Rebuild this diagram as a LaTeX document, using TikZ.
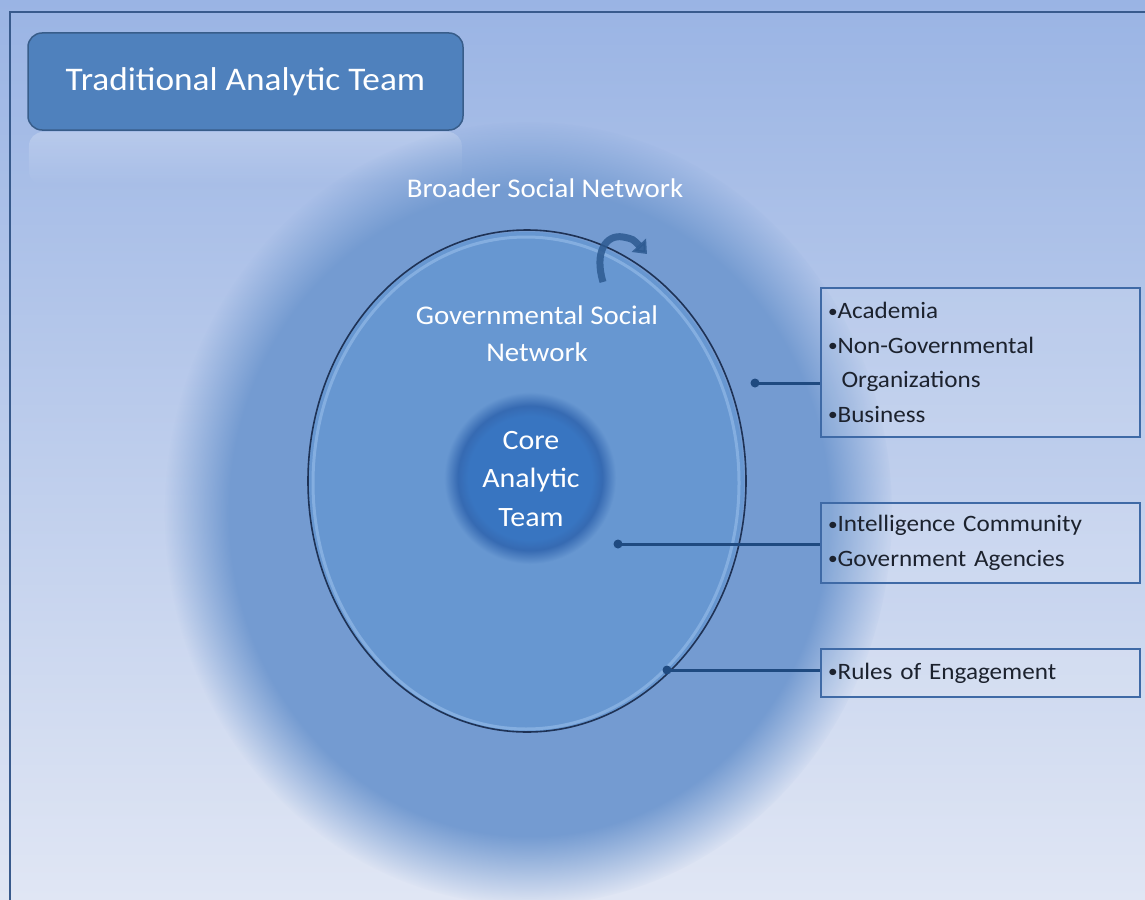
\documentclass[tikz,border=0pt]{standalone}
\usepackage{fontspec}
\setmainfont{Carlito}[FakeStretch=1.07]
\usetikzlibrary{fadings,arrows.meta}
\definecolor{bgTop}{RGB}{154,180,228}
\definecolor{bgBot}{RGB}{224,230,244}
\definecolor{frameC}{RGB}{56,90,140}
\definecolor{titleC}{RGB}{79,129,189}
\definecolor{titleD}{RGB}{56,93,138}
\definecolor{blobC}{RGB}{116,155,209}
\definecolor{govC}{RGB}{103,151,209}
\definecolor{govD}{RGB}{30,50,85}
\definecolor{rimC}{RGB}{140,180,228}
\definecolor{coreIn}{RGB}{56,117,193}
\definecolor{coreEdge}{RGB}{54,106,178}
\definecolor{lineC}{RGB}{31,74,128}
\definecolor{boxD}{RGB}{63,106,166}
\definecolor{txtC}{RGB}{28,34,46}
\definecolor{arrC}{RGB}{45,90,145}
\pgfdeclareradialshading{blobfadeshade}{\pgfpointorigin}{color(0bp)=(transparent!0); color(20.5bp)=(transparent!0); color(25bp)=(transparent!100); color(50bp)=(transparent!100)}
\pgfdeclarefading{blobfade}{\pgfuseshading{blobfadeshade}}
\pgfdeclareradialshading{coreshade}{\pgfpointorigin}{color(0bp)=(coreIn); color(18bp)=(coreIn); color(21bp)=(coreEdge); color(25bp)=(govC); color(50bp)=(govC)}
\tikzfading[name=reflfade, top color=transparent!78, bottom color=transparent!100]
\newcommand{\bul}{\raisebox{1.5pt}{\fontsize{18}{18}\selectfont•}}
\begin{document}
\begin{tikzpicture}[x=1pt,y=1pt,
  titlebox/.style={rounded corners=14pt, fill=titleC, draw=titleD, line width=1.5pt,
    minimum width=435pt, minimum height=97pt, text=white, inner sep=0pt,
    font=\fontsize{33}{37}\selectfont},
  lbl/.style={text=white, align=center, inner sep=0pt, font=\fontsize{27}{37}\selectfont},
  infobox/.style={draw=boxD, line width=1.4pt, fill=white, fill opacity=0.12, text opacity=1,
    text=txtC, minimum width=319pt, text width=305pt, inner xsep=7pt, inner ysep=0pt,
    align=left, font=\fontsize{23.5}{34.4}\selectfont},
  conn/.style={draw=lineC, line width=3pt},
  dot/.style={fill=lineC}
]
\useasboundingbox (0,0) rectangle (1145,-899);
% background
\shade[top color=bgTop, bottom color=bgBot] (0,0) rectangle (1145,-899);
\draw[frameC, line width=2pt] (10,-900) -- (10,-12) -- (1146,-12);
% title and its reflection
\fill[white, path fading=reflfade, rounded corners=14pt] (29,-132) rectangle (462,-185);
\node[titlebox] (title) at (245.5,-81.5) {Traditional Analytic Team};
% broader social network blob
\fill[blobC, path fading=blobfade] (529,-513) ellipse [x radius=364, y radius=392];
\node[lbl] (broad) at (545,-188) {Broader Social Network};
% governmental circle
\fill[govC] (526,-482) ellipse [x radius=218, y radius=250];
\draw[rimC, line width=3pt, opacity=0.8] (526,-483) ellipse [x radius=213, y radius=246];
\draw[govD, line width=1.6pt] (527,-481) ellipse [x radius=219, y radius=251];
\node[lbl] (govtxt) at (537,-334) {Governmental Social\\Network};
% curved arrow
\coordinate (a1) at (603,-282);
\coordinate (a2) at (647,-254);
\draw[arrC, opacity=0.85, line width=7pt, -{Triangle[length=12pt,width=19pt]}]
  (a1) .. controls (594,-252) and (606,-234) .. (623,-237) .. controls (633,-239) .. (a2);
% core circle
\shade[shading=coreshade] (530,-478) circle [radius=86];
\node[lbl, font=\fontsize{28}{38.5}\selectfont] (core) at (531,-479) {Core\\Analytic\\Team};
% info boxes
\node[infobox, minimum height=149pt] (b1) at (980.5,-362.5)
  {\bul Academia\\\bul Non-Governmental\\\phantom{\bul}\,Organizations\\\bul Business};
\node[infobox, minimum height=80pt] (b2) at (980.5,-543)
  {\bul Intelligence Community\\\bul Government Agencies};
\node[infobox, minimum height=48pt] (b3) at (980.5,-673)
  {\bul Rules of Engagement};
% connectors
\coordinate (d1) at (755,-383);
\coordinate (d2) at (618,-544);
\coordinate (d3) at (667,-670);
\draw[conn] (d1) -- (d1 -| b1.west);
\draw[conn] (d2) -- (d2 -| b2.west);
\draw[conn] (d3) -- (d3 -| b3.west);
\fill[dot] (d1) circle [radius=4.5];
\fill[dot] (d2) circle [radius=4.5];
\fill[dot] (d3) circle [radius=4.5];
\end{tikzpicture}
\end{document}
